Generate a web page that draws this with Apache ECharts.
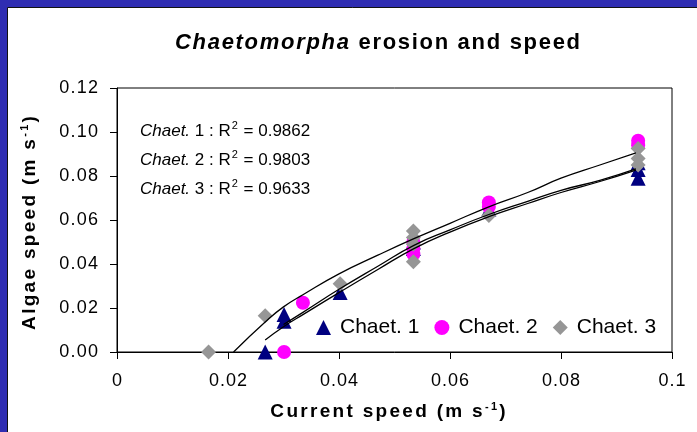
<!DOCTYPE html>
<html>
<head>
<meta charset="utf-8">
<script src="https://cdn.jsdelivr.net/npm/echarts@6/dist/echarts.min.js"></script>
<style>
  html, body { margin: 0; padding: 0; background: #2F2DB2; }
  #chart { width: 697px; height: 432px; }
</style>
</head>
<body>
<div id="chart"></div>
<script>
// Measured algae speed against current speed, three Chaetomorpha samples
const chaet1X = [0.0267, 0.0301, 0.0301, 0.0402, 0.0534, 0.0534, 0.0670, 0.0939, 0.0939, 0.0939];
const chaet1Y = [0.000, 0.017, 0.014, 0.027, 0.050, 0.047, 0.065, 0.086, 0.083, 0.079];
const chaet2X = [0.0301, 0.0335, 0.0534, 0.0534, 0.0534, 0.0670, 0.0670, 0.0939, 0.0939];
const chaet2Y = [0.000, 0.0224, 0.050, 0.047, 0.0445, 0.068, 0.066, 0.096, 0.094];
const chaet3X = [0.0165, 0.0267, 0.0402, 0.0534, 0.0534, 0.0534, 0.0534, 0.0670, 0.0939, 0.0939, 0.0939];
const chaet3Y = [0.000, 0.0165, 0.031, 0.055, 0.041, 0.049, 0.052, 0.062, 0.0925, 0.088, 0.085];

// Trend curves for each sample
const trend1X = [0.0267, 0.030, 0.0335, 0.040, 0.047, 0.0535, 0.060, 0.067, 0.074, 0.080, 0.087, 0.0935];
const trend1Y = [0.0055, 0.0115, 0.017, 0.027, 0.0375, 0.047, 0.0545, 0.0615, 0.0675, 0.0725, 0.0775, 0.0827];
const trend2X = [0.030, 0.0335, 0.040, 0.047, 0.0535, 0.060, 0.067, 0.074, 0.080, 0.087, 0.0935];
const trend2Y = [0.0125, 0.018, 0.0285, 0.039, 0.0485, 0.0555, 0.0625, 0.0685, 0.0735, 0.078, 0.0832];
const trend3X = [0.021, 0.0267, 0.030, 0.0335, 0.040, 0.047, 0.0535, 0.060, 0.067, 0.074, 0.080, 0.087, 0.0935];
const trend3Y = [0.000, 0.0136, 0.0205, 0.026, 0.0355, 0.044, 0.0515, 0.0585, 0.066, 0.0725, 0.079, 0.085, 0.0905];

const seriesNames = ['Chaet. 1', 'Chaet. 2', 'Chaet. 3'];
const fitLabels = ['1', '2', '3'];
const fitR2 = ['0.9862', '0.9803', '0.9633'];

const xTicks = { min: 0, max: 0.1, interval: 0.02 };
const yTicks = { min: 0, max: 0.12, interval: 0.02 };

const FONT = '"Liberation Sans", Arial, sans-serif';
const zip = (xs, ys) => xs.map((x, i) => [x, ys[i]]);

// Builds a rich-text string with a fixed gap token between every character.
// parts: [[text, richStyleName or null], ...]
function spaced(parts, gap) {
  const chars = [];
  parts.forEach(([t, key]) => {
    for (const ch of t) chars.push(key ? '{' + key + '|' + ch + '}' : ch);
  });
  return chars.join('{' + gap + '|\u00a0}');
}
const gapStyle = w => ({ width: w, fontSize: 1, fontFamily: FONT });

const chart = echarts.init(document.getElementById('chart'), null, { renderer: 'canvas' });

const fitTexts = fitLabels.map((n, i) => ({
  type: 'text',
  x: 140,
  y: 131 + i * 29,
  style: {
    text: '{it|Chaet.} ' + n + ' : R{sup|2} = ' + fitR2[i],
    font: '17px ' + FONT,
    fill: '#000',
    verticalAlign: 'middle',
    rich: {
      it: { fontStyle: 'italic', fontSize: 17, fontFamily: FONT, fill: '#000' },
      sup: { fontSize: 11, fontFamily: FONT, verticalAlign: 'top', padding: [0, 1, 10, 1], fill: '#000' }
    }
  },
  z: 10
}));

const trendSeries = [[trend1X, trend1Y], [trend2X, trend2Y], [trend3X, trend3Y]].map(([xs, ys]) => ({
  type: 'line',
  data: zip(xs, ys),
  showSymbol: false,
  smooth: true,
  silent: true,
  lineStyle: { color: '#000', width: 1.3 },
  z: 5
}));

const axisTitleRich = {
  sup: { fontSize: 11, fontWeight: 'bold', fontFamily: FONT, verticalAlign: 'top', padding: [0, 0, 10, 0], fill: '#000' },
  g: gapStyle(2.3)
};

chart.setOption({
  animation: false,
  backgroundColor: '#2F2DB2',
  graphic: [
    {
      type: 'rect',
      shape: { x: 7.5, y: 7.5, width: 700, height: 440 },
      style: { fill: '#fff', stroke: '#111', lineWidth: 1 },
      z: -10
    },
    {
      type: 'text',
      x: 175,
      y: 43,
      style: {
        text: spaced([['Chaetomorpha', 'it'], [' erosion and speed', null]], 'g'),
        font: 'bold 22px ' + FONT,
        fill: '#000',
        verticalAlign: 'middle',
        rich: {
          it: { fontStyle: 'italic', fontWeight: 'bold', fontSize: 22, fontFamily: FONT, fill: '#000' },
          g: gapStyle(1.7)
        }
      }
    },
    {
      type: 'text',
      x: 388,
      y: 412,
      style: {
        text: spaced([['Current speed (m s', null], ['-1', 'sup'], [')', null]], 'g'),
        font: 'bold 19px ' + FONT,
        fill: '#000',
        align: 'center',
        verticalAlign: 'middle',
        rich: axisTitleRich
      }
    },
    {
      type: 'text',
      x: 30,
      y: 223,
      rotation: Math.PI / 2,
      style: {
        text: spaced([['Algae speed (m s', null], ['-1', 'sup'], [')', null]], 'g'),
        font: 'bold 19px ' + FONT,
        fill: '#000',
        align: 'center',
        verticalAlign: 'middle',
        rich: axisTitleRich
      }
    },
    ...fitTexts
  ],
  grid: {
    left: 117, right: 25, top: 88, bottom: 80,
    show: true, borderColor: '#000', borderWidth: 1, backgroundColor: 'transparent'
  },
  legend: {
    data: seriesNames,
    left: 311,
    top: 312,
    itemWidth: 15,
    itemHeight: 15,
    itemGap: 15,
    textStyle: { fontFamily: FONT, fontSize: 21, color: '#000', padding: [0, 0, 0, 4] }
  },
  xAxis: {
    type: 'value',
    min: xTicks.min, max: xTicks.max, interval: xTicks.interval,
    axisLine: { lineStyle: { color: '#000', width: 1 } },
    axisTick: { show: true, inside: false, length: 7, lineStyle: { color: '#000' } },
    splitLine: { show: false },
    axisLabel: {
      fontFamily: FONT, fontSize: 18, color: '#000', margin: 20,
      rich: { g: gapStyle(1) },
      formatter: v => spaced([[v === 0 ? '0' : Math.abs(v - 0.1) < 1e-9 ? '0.1' : v.toFixed(2), null]], 'g')
    }
  },
  yAxis: {
    type: 'value',
    min: yTicks.min, max: yTicks.max, interval: yTicks.interval,
    axisLine: { show: true, lineStyle: { color: '#000', width: 1 } },
    axisTick: { show: true, inside: false, length: 7, lineStyle: { color: '#000' } },
    splitLine: { show: false },
    axisLabel: {
      fontFamily: FONT, fontSize: 18, color: '#000', margin: 19,
      rich: { g: gapStyle(1.2) },
      formatter: v => spaced([[v.toFixed(2), null]], 'g')
    }
  },
  series: [
    {
      name: seriesNames[0], type: 'scatter', data: zip(chaet1X, chaet1Y),
      symbol: 'triangle', symbolSize: 15,
      itemStyle: { color: '#000080', opacity: 1 }, z: 2
    },
    {
      name: seriesNames[1], type: 'scatter', data: zip(chaet2X, chaet2Y),
      symbol: 'circle', symbolSize: 14,
      itemStyle: { color: '#FF00FF', opacity: 1 }, z: 3
    },
    {
      name: seriesNames[2], type: 'scatter', data: zip(chaet3X, chaet3Y),
      symbol: 'diamond', symbolSize: 15,
      itemStyle: { color: '#969696', opacity: 1 }, z: 4
    },
    ...trendSeries
  ]
});
</script>
</body>
</html>
